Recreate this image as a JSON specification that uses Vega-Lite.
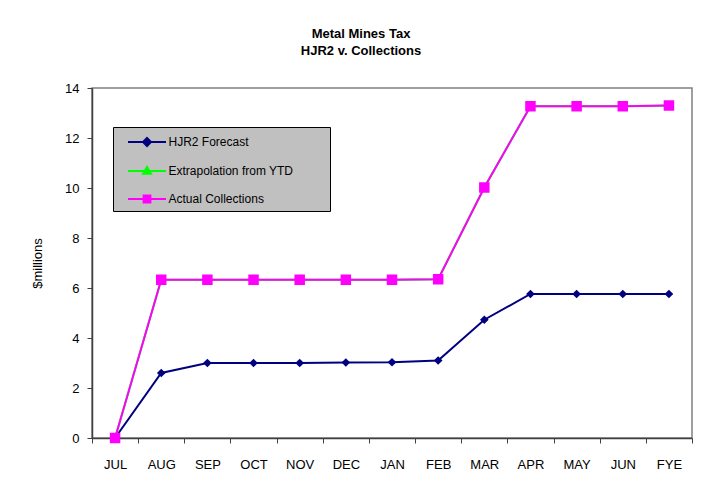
{
  "$schema": "https://vega.github.io/schema/vega-lite/v6.json",
  "width": 600,
  "height": 350,
  "autosize": "none",
  "padding": {"left": 92, "top": 88, "right": 31, "bottom": 57},
  "background": "white",
  "title": {
    "text": ["Metal Mines Tax", "HJR2 v. Collections"],
    "font": "Liberation Sans",
    "fontSize": 13,
    "fontWeight": "bold",
    "color": "black",
    "anchor": "middle",
    "frame": "group",
    "dx": -31,
    "offset": 24,
    "lineHeight": 17
  },
  "config": {
    "view": {"stroke": "#808080", "strokeWidth": 1.5},
    "font": "Liberation Sans"
  },
  "data": {
    "values": [
      {"month": "JUL", "series": "HJR2 Forecast", "value": 0},
      {"month": "AUG", "series": "HJR2 Forecast", "value": 2.6},
      {"month": "SEP", "series": "HJR2 Forecast", "value": 3.0},
      {"month": "OCT", "series": "HJR2 Forecast", "value": 3.0},
      {"month": "NOV", "series": "HJR2 Forecast", "value": 3.0},
      {"month": "DEC", "series": "HJR2 Forecast", "value": 3.02},
      {"month": "JAN", "series": "HJR2 Forecast", "value": 3.03},
      {"month": "FEB", "series": "HJR2 Forecast", "value": 3.1},
      {"month": "MAR", "series": "HJR2 Forecast", "value": 4.73},
      {"month": "APR", "series": "HJR2 Forecast", "value": 5.76},
      {"month": "MAY", "series": "HJR2 Forecast", "value": 5.76},
      {"month": "JUN", "series": "HJR2 Forecast", "value": 5.76},
      {"month": "FYE", "series": "HJR2 Forecast", "value": 5.76},
      {"month": "JUL", "series": "Extrapolation from YTD", "value": 0},
      {"month": "AUG", "series": "Extrapolation from YTD", "value": 6.33},
      {"month": "SEP", "series": "Extrapolation from YTD", "value": 6.33},
      {"month": "OCT", "series": "Extrapolation from YTD", "value": 6.33},
      {"month": "NOV", "series": "Extrapolation from YTD", "value": 6.33},
      {"month": "DEC", "series": "Extrapolation from YTD", "value": 6.33},
      {"month": "JAN", "series": "Extrapolation from YTD", "value": 6.33},
      {"month": "FEB", "series": "Extrapolation from YTD", "value": 6.35},
      {"month": "MAR", "series": "Extrapolation from YTD", "value": 10.02},
      {"month": "APR", "series": "Extrapolation from YTD", "value": 13.27},
      {"month": "MAY", "series": "Extrapolation from YTD", "value": 13.27},
      {"month": "JUN", "series": "Extrapolation from YTD", "value": 13.27},
      {"month": "FYE", "series": "Extrapolation from YTD", "value": 13.3},
      {"month": "JUL", "series": "Actual Collections", "value": 0},
      {"month": "AUG", "series": "Actual Collections", "value": 6.33},
      {"month": "SEP", "series": "Actual Collections", "value": 6.33},
      {"month": "OCT", "series": "Actual Collections", "value": 6.33},
      {"month": "NOV", "series": "Actual Collections", "value": 6.33},
      {"month": "DEC", "series": "Actual Collections", "value": 6.33},
      {"month": "JAN", "series": "Actual Collections", "value": 6.33},
      {"month": "FEB", "series": "Actual Collections", "value": 6.35},
      {"month": "MAR", "series": "Actual Collections", "value": 10.02},
      {"month": "APR", "series": "Actual Collections", "value": 13.27},
      {"month": "MAY", "series": "Actual Collections", "value": 13.27},
      {"month": "JUN", "series": "Actual Collections", "value": 13.27},
      {"month": "FYE", "series": "Actual Collections", "value": 13.3}
    ]
  },
  "encoding": {
    "x": {
      "field": "month",
      "type": "nominal",
      "sort": null,
      "scale": {"type": "band", "paddingInner": 0, "paddingOuter": 0},
      "axis": {
        "title": null,
        "labelAngle": 0,
        "tickBand": "extent",
        "grid": false,
        "domainColor": "#404040",
        "domainWidth": 1.5,
        "tickColor": "#404040",
        "tickSize": 5,
        "labelFont": "Liberation Sans",
        "labelFontSize": 13,
        "labelColor": "black",
        "labelPadding": 15
      }
    },
    "y": {
      "field": "value",
      "type": "quantitative",
      "scale": {"domain": [0, 14], "nice": false},
      "axis": {
        "title": "$millions",
        "titleFont": "Liberation Sans",
        "titleFontSize": 13,
        "titleFontWeight": "normal",
        "titleColor": "black",
        "titlePadding": 20,
        "values": [0, 2, 4, 6, 8, 10, 12, 14],
        "grid": false,
        "domainColor": "#404040",
        "domainWidth": 1.5,
        "tickColor": "#404040",
        "tickSize": 5,
        "labelFont": "Liberation Sans",
        "labelFontSize": 13,
        "labelColor": "black",
        "labelPadding": 8
      }
    },
    "color": {
      "field": "series",
      "type": "nominal",
      "scale": {
        "domain": ["HJR2 Forecast", "Extrapolation from YTD", "Actual Collections"],
        "range": ["#000080", "#00ff00", "#ff00ff"]
      },
      "legend": {
        "title": "\u00a0",
        "titleOrient": "right",
        "titlePadding": 32,
        "titleFontSize": 6,
        "titleColor": "#c0c0c0",
        "orient": "none",
        "legendX": 21,
        "legendY": 39,
        "fillColor": "#c0c0c0",
        "strokeColor": "black",
        "padding": 4.5,
        "rowPadding": 10,
        "symbolSize": 361,
        "symbolStrokeWidth": 2,
        "symbolOffset": 19,
        "labelOffset": 11,
        "labelFont": "Liberation Sans",
        "labelFontSize": 12,
        "labelColor": "black",
        "labelLimit": 400,
        "symbolType": {"signal": "datum.value == 'HJR2 Forecast' ? 'M-2,0H2M0,-0.42L0.42,0L0,0.42L-0.42,0Z' : datum.value == 'Actual Collections' ? 'M-2,0H2M-0.36,-0.36H0.36V0.36H-0.36Z' : 'M-2,0H2M0,-0.42L0.42,0.3H-0.42Z'"},
        "encode": {
          "symbols": {
            "update": {
              "fill": {"scale": "color", "field": "value"},
              "stroke": {"scale": "color", "field": "value"},
              "opacity": {"value": 1}
            }
          }
        }
      }
    }
  },
  "layer": [
    {
      "mark": {"type": "line", "strokeWidth": 2},
      "encoding": {}
    },
    {
      "transform": [{"filter": "datum.series == 'HJR2 Forecast'"}],
      "mark": {"type": "point", "filled": true, "opacity": 1, "size": 75, "shape": "diamond"},
      "encoding": {}
    },
    {
      "transform": [{"filter": "datum.series == 'Extrapolation from YTD'"}],
      "mark": {"type": "point", "filled": true, "opacity": 1, "size": 60, "shape": "triangle-up"},
      "encoding": {}
    },
    {
      "transform": [{"filter": "datum.series == 'Actual Collections'"}],
      "mark": {"type": "point", "filled": true, "opacity": 1, "size": 110, "shape": "square"},
      "encoding": {}
    }
  ]
}
